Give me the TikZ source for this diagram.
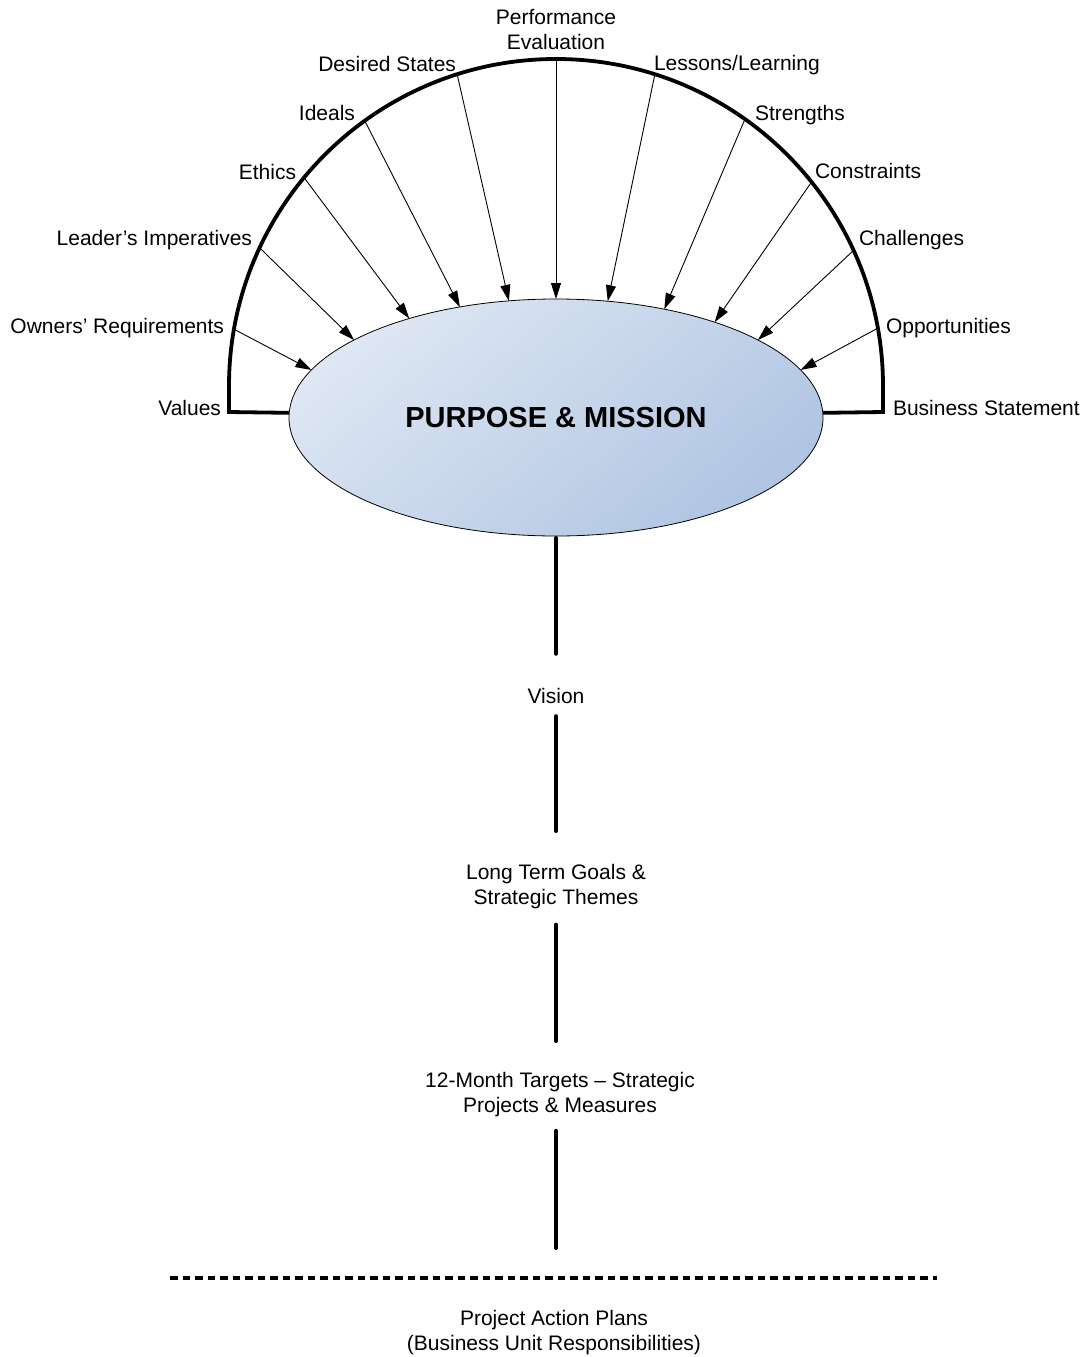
\documentclass[tikz,border=0pt]{standalone}
\usepackage{fontspec}
\setmainfont{Liberation Sans}
\usetikzlibrary{shapes.geometric,arrows.meta}
\definecolor{pmlight}{RGB}{222,231,243}
\definecolor{pmdark}{RGB}{176,197,226}
\begin{document}
\begin{tikzpicture}[x=1pt,y=1pt,
  lbl/.style={inner sep=0pt, outer sep=0pt, font=\fontsize{21}{25}\selectfont},
  mlbl/.style={lbl, align=center, anchor=north},
  inarrow/.style={line width=0.9pt, -{Triangle[length=16pt,width=10pt]}},
  frame/.style={line width=3.8pt},
  spine/.style={line width=4pt, line cap=round},
  dashline/.style={line width=4pt, dash pattern=on 7.5pt off 5pt},
]
\useasboundingbox (0,0) rectangle (1090,-1357);

% central ellipse
\node[ellipse, draw, line width=0.8pt, minimum width=534pt, minimum height=237pt,
      inner sep=0pt, outer sep=0pt, top color=pmlight, bottom color=pmdark,
      shading angle=40, font=\bfseries\fontsize{29}{34}\selectfont]
      (PM) at (556,-417.5) {PURPOSE \& MISSION};

% frame (half circle)
\coordinate (fl) at (229,-412);
\coordinate (fr) at (883,-412);
\draw[frame] (PM.179) -- (fl) -- (229,-386) arc[start angle=180,end angle=0,radius=327] -- (fr) -- (PM.1);

% arc points
\foreach \n/\a in {1/170,2/155,3/140.4,4/125.8,5/107.6,6/90,7/72.4,8/54.7,9/38.6,10/24.5,11/10.2}
  \coordinate (a\n) at ([shift={(556,-386)}]\a:327);

% arrows into the ellipse
\foreach \n/\e in {1/169,2/159,3/146,4/131,5/112,6/90,7/66,8/45,9/31,10/21,11/11}
  \draw[inarrow] (a\n) -- (PM.\e);

% labels around the arc
\node[lbl, anchor=base east] (val)  at (221,-415) {Values};
\node[lbl, anchor=base east] (own)  at (224,-333) {Owners’ Requirements};
\node[lbl, anchor=base east] (lead) at (252,-245) {Leader’s Imperatives};
\node[lbl, anchor=base east] (eth)  at (296,-179) {Ethics};
\node[lbl, anchor=base east] (ide)  at (355,-120) {Ideals};
\node[lbl, anchor=base east] (des)  at (456,-71) {Desired States};
\node[mlbl] (perf) at (556,-9.7) {Performance\\Evaluation};
\node[lbl, anchor=base west] (les)  at (654,-70) {Lessons/Learning};
\node[lbl, anchor=base west] (str)  at (755,-120) {Strengths};
\node[lbl, anchor=base west] (con)  at (815,-178) {Constraints};
\node[lbl, anchor=base west] (cha)  at (859,-245) {Challenges};
\node[lbl, anchor=base west] (opp)  at (886,-333) {Opportunities};
\node[lbl, anchor=base west] (bus)  at (893,-415) {Business Statement};

% spine labels
\node[lbl, anchor=base] (vis) at (556,-703.5) {Vision};
\node[mlbl] (ltg) at (556,-864.5) {Long Term Goals \&\\Strategic Themes};
\node[mlbl] (tgt) at (560,-1072.7) {12-Month Targets – Strategic\\Projects \& Measures};
\node[mlbl] (pap) at (554,-1310.2) {Project Action Plans\\(Business Unit Responsibilities)};

% dashed divider
\coordinate (dl) at (170,-1278);
\coordinate (dr) at (937,-1278);
\coordinate (dm) at (556,-1278);
\draw[dashline] (dl) -- (dr);

% spine
\draw[spine, shorten <=2pt, shorten >=34.5pt] (PM.south) -- (vis.north);
\draw[spine, shorten <=12.5pt, shorten >=33.5pt] (vis.south) -- (ltg.north);
\draw[spine, shorten <=15.6pt, shorten >=31.7pt] (ltg.south) -- (ltg.south |- tgt.north);
\draw[spine, shorten <=13.6pt, shorten >=30pt] (tgt.south -| vis.south) -- (dm);
\end{tikzpicture}
\end{document}
